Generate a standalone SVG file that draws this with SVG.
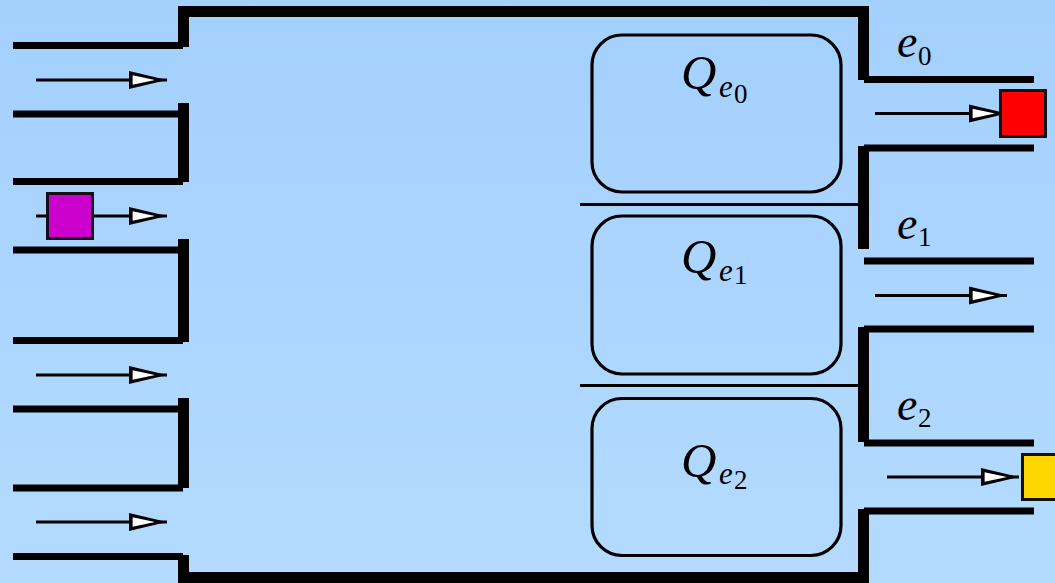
<svg xmlns="http://www.w3.org/2000/svg" width="1055" height="583" viewBox="0 0 1055 583">
  <defs>
    <linearGradient id="bg" x1="0" y1="0" x2="0" y2="1">
      <stop offset="0" stop-color="#A4D0FE"/>
      <stop offset="1" stop-color="#B4DBFE"/>
    </linearGradient>
    <!-- open-looking arrowhead: black outline, white inside -->
    <marker id="head" markerUnits="userSpaceOnUse" markerWidth="38" markerHeight="18" viewBox="0 0 38 18" refX="38" refY="9" orient="auto" overflow="visible">
      <path d="M0,0 L38,9 L0,18 Z" fill="#000"/>
      <path d="M3.6,4.2 L26,9 L3.6,13.8 Z" fill="#fff"/>
    </marker>
    <style>
      .wall { stroke: #000; stroke-width: 11; fill: none; stroke-linecap: butt; stroke-linejoin: miter; }
      .lane { stroke: #000; stroke-width: 7; fill: none; stroke-linecap: butt; }
      .div { stroke: #000; stroke-width: 3; fill: none; }
      .queue { fill: none; stroke: #000; stroke-width: 3.2; }
      .flow { stroke: #000; stroke-width: 3; fill: none; marker-end: url(#head); }
      .pkt { stroke: #111; stroke-width: 3; }
      text { font-family: "Liberation Serif", "DejaVu Serif", serif; fill: #000; }
      .m { font-style: italic; font-size: 46px; }
      .q { font-style: italic; font-size: 49px; }
      .si { font-style: italic; font-size: 31px; }
      .sn { font-size: 27px; }
    </style>
  </defs>

  <rect x="0" y="0" width="1055" height="583" fill="url(#bg)"/>

  <!-- outer walls of the switch -->
  <g id="frame">
    <path class="wall" d="M183.5,47 V11.5 H863.5 V80"/>
    <path class="wall" d="M183.5,555 V577.5 H863.5 V509"/>
    <path class="wall" d="M183.5,103 V182"/>
    <path class="wall" d="M183.5,239 V342"/>
    <path class="wall" d="M183.5,398 V488"/>
    <path class="wall" d="M863.5,146 V249"/>
    <path class="wall" d="M863.5,327 V442"/>
  </g>

  <!-- input lanes on the left -->
  <g id="inputs">
    <line class="lane" x1="13" y1="45.5" x2="183" y2="45.5"/>
    <line class="lane" x1="13" y1="114" x2="183" y2="114"/>
    <line class="lane" x1="13" y1="181.5" x2="183" y2="181.5"/>
    <line class="lane" x1="13" y1="250" x2="183" y2="250"/>
    <line class="lane" x1="13" y1="340.5" x2="183" y2="340.5"/>
    <line class="lane" x1="13" y1="409" x2="183" y2="409"/>
    <line class="lane" x1="13" y1="488" x2="183" y2="488"/>
    <line class="lane" x1="13" y1="556.5" x2="183" y2="556.5"/>
  </g>

  <!-- output ports on the right -->
  <g id="outputs">
    <line class="lane" x1="864" y1="79.5" x2="1034" y2="79.5"/>
    <line class="lane" x1="864" y1="148" x2="1034" y2="148"/>
    <line class="lane" x1="864" y1="261" x2="1034" y2="261"/>
    <line class="lane" x1="864" y1="329" x2="1034" y2="329"/>
    <line class="lane" x1="864" y1="443" x2="1034" y2="443"/>
    <line class="lane" x1="864" y1="511" x2="1034" y2="511"/>
  </g>

  <!-- separators between the queues -->
  <g id="separators">
    <line class="div" x1="580" y1="204.5" x2="859" y2="204.5"/>
    <line class="div" x1="580" y1="385.5" x2="859" y2="385.5"/>
  </g>

  <g id="q0">
    <rect class="queue" x="592" y="35" width="249" height="157" rx="30"/>
    <text class="q" x="681" y="89">Q</text>
    <text class="si" x="719" y="97">e</text>
    <text class="sn" x="734" y="103">0</text>
  </g>
  <g id="q1">
    <rect class="queue" x="592" y="216" width="249" height="158" rx="30"/>
    <text class="q" x="681" y="273">Q</text>
    <text class="si" x="719" y="281">e</text>
    <text class="sn" x="734" y="284">1</text>
  </g>
  <g id="q2">
    <rect class="queue" x="592" y="398.5" width="249" height="157" rx="30"/>
    <text class="q" x="681" y="477">Q</text>
    <text class="si" x="719" y="484">e</text>
    <text class="sn" x="734" y="489">2</text>
  </g>

  <g id="port-labels">
    <g id="label-e0"><text class="m" x="897" y="57">e</text><text class="sn" x="918" y="65">0</text></g>
    <g id="label-e1"><text class="m" x="897" y="239">e</text><text class="sn" x="918" y="246">1</text></g>
    <g id="label-e2"><text class="m" x="897" y="420">e</text><text class="sn" x="918" y="427">2</text></g>
  </g>

  <!-- traffic arrows -->
  <g id="connectors">
    <line class="flow" x1="36" y1="80" x2="167" y2="80"/>
    <line class="flow" x1="36" y1="216" x2="167" y2="216"/>
    <line class="flow" x1="36" y1="375" x2="167" y2="375"/>
    <line class="flow" x1="36" y1="522" x2="167" y2="522"/>
    <line class="flow" x1="875" y1="113.5" x2="1007" y2="113.5"/>
    <line class="flow" x1="875" y1="295.5" x2="1007" y2="295.5"/>
    <line class="flow" x1="887" y1="477" x2="1019" y2="477"/>
  </g>

  <!-- packets -->
  <g id="packet-in">
    <rect class="pkt" x="47.5" y="193.5" width="45" height="45" fill="#CC00CC"/>
  </g>
  <g id="packet-e0">
    <rect class="pkt" x="1000.5" y="90.5" width="45" height="46" fill="#FF0000"/>
  </g>
  <g id="packet-e2">
    <rect class="pkt" x="1022.5" y="454.5" width="45" height="45" fill="#FFD700"/>
  </g>
</svg>
